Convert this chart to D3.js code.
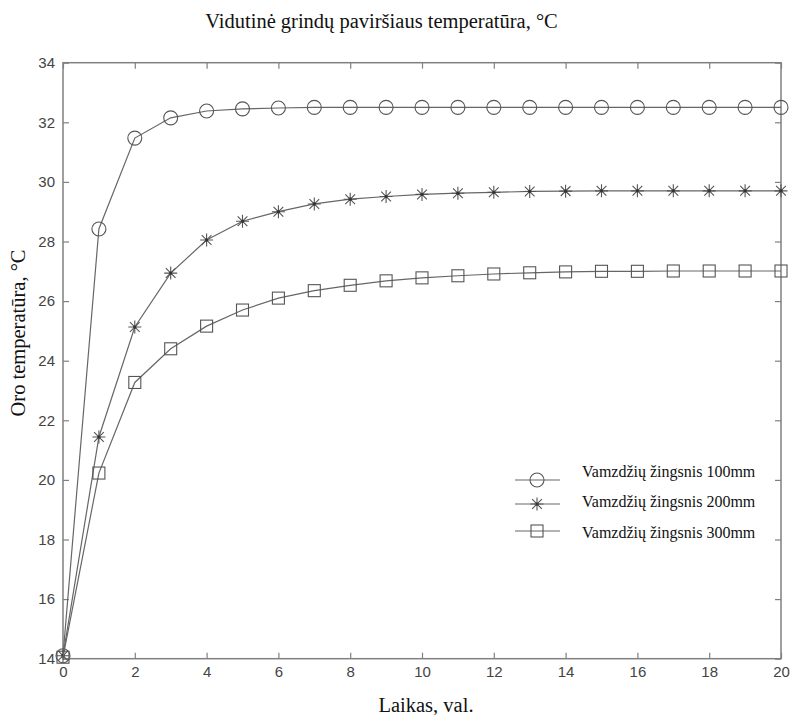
<!DOCTYPE html>
<html><head><meta charset="utf-8">
<script src="https://cdn.jsdelivr.net/npm/d3@7"></script>
<style>body{margin:0;background:#fff}</style>
</head><body>
<script>
const hours = [0,1,2,3,4,5,6,7,8,9,10,11,12,13,14,15,16,17,18,19,20];
const pipe100 = [14.1,28.42,31.47,32.15,32.38,32.45,32.48,32.5,32.5,32.5,32.5,32.5,32.5,32.5,32.5,32.5,32.5,32.5,32.5,32.5,32.5];
const pipe200 = [14.1,21.44,25.13,26.94,28.05,28.68,29.0,29.26,29.42,29.51,29.58,29.62,29.65,29.68,29.69,29.7,29.7,29.7,29.7,29.7,29.7];
const pipe300 = [14.05,20.23,23.27,24.4,25.16,25.7,26.1,26.35,26.53,26.68,26.78,26.85,26.91,26.95,26.98,27.0,27.0,27.01,27.01,27.01,27.01];
const seriesNames = ["Vamzdžių žingsnis 100mm","Vamzdžių žingsnis 200mm","Vamzdžių žingsnis 300mm"];
const xTicks = [0,2,4,6,8,10,12,14,16,18,20];
const yTicks = [14,16,18,20,22,24,26,28,30,32,34];
const titleText = "Vidutinė grindų paviršiaus temperatūra, °C";
const xLabel = "Laikas, val.";
const yLabel = "Oro temperatūra, °C";

const W = 790, H = 715;
const L = 63, R = 781, T = 62.7, B = 658.7;
const svg = d3.select("body").append("svg").attr("width", W).attr("height", H);
const x = d3.scaleLinear().domain([0,20]).range([L,R]);
const y = d3.scaleLinear().domain([14,34]).range([B,T]);
const axisCol = "#808080", lineCol = "#666", markCol = "#555";

// frame
svg.append("rect").attr("x",L).attr("y",T).attr("width",R-L).attr("height",B-T)
  .attr("fill","none").attr("stroke",axisCol).attr("stroke-width",1.5);

const tickFont = "Liberation Sans, Arial, sans-serif";
const gx = svg.append("g").attr("transform",`translate(0,${B})`)
  .call(d3.axisBottom(x).tickValues(xTicks).tickSizeInner(-6).tickSizeOuter(0).tickPadding(8));
const gxt = svg.append("g").attr("transform",`translate(0,${T})`)
  .call(d3.axisTop(x).tickValues(xTicks).tickSizeInner(-6).tickSizeOuter(0).tickFormat(""));
const gy = svg.append("g").attr("transform",`translate(${L},0)`)
  .call(d3.axisLeft(y).tickValues(yTicks).tickSizeInner(-6).tickSizeOuter(0).tickPadding(8));
const gyr = svg.append("g").attr("transform",`translate(${R},0)`)
  .call(d3.axisRight(y).tickValues(yTicks).tickSizeInner(-6).tickSizeOuter(0).tickFormat(""));
[gx,gxt,gy,gyr].forEach(g=>{
  g.select(".domain").remove();
  g.selectAll(".tick line").attr("stroke",axisCol).attr("stroke-width",1.2);
  g.selectAll(".tick text").attr("fill","#444").attr("font-family",tickFont).attr("font-size",15);
});

function star(g, cx, cy, s){
  const p = d3.path();
  p.moveTo(cx-s,cy); p.lineTo(cx+s,cy);
  p.moveTo(cx,cy-s); p.lineTo(cx,cy+s);
  const d = s*0.75;
  p.moveTo(cx-d,cy-d); p.lineTo(cx+d,cy+d);
  p.moveTo(cx-d,cy+d); p.lineTo(cx+d,cy-d);
  g.append("path").attr("d",p.toString()).attr("stroke",markCol).attr("stroke-width",1.1).attr("fill","none");
  g.append("circle").attr("cx",cx).attr("cy",cy).attr("r",1.6).attr("fill","#333");
}
function marker(g, type, cx, cy){
  if(type===0) g.append("circle").attr("cx",cx).attr("cy",cy).attr("r",7).attr("fill","none").attr("stroke",markCol).attr("stroke-width",1.1);
  else if(type===1) star(g,cx,cy,6.5);
  else g.append("rect").attr("x",cx-6).attr("y",cy-6).attr("width",12).attr("height",12).attr("fill","none").attr("stroke",markCol).attr("stroke-width",1.1);
}

const allSeries = [pipe100,pipe200,pipe300];
const line = d3.line().x((d,i)=>x(hours[i])).y(d=>y(d));
allSeries.forEach((vals,si)=>{
  const g = svg.append("g");
  g.append("path").attr("d",line(vals)).attr("fill","none").attr("stroke",lineCol).attr("stroke-width",1.2);
  vals.forEach((v,i)=>marker(g,si,x(hours[i]),y(v)));
});

// legend
const legMarkY = [480,504,531], legTextY = [477,507,538];
seriesNames.forEach((n,i)=>{
  const g = svg.append("g");
  g.append("line").attr("x1",515).attr("x2",560).attr("y1",legMarkY[i]).attr("y2",legMarkY[i]).attr("stroke",lineCol).attr("stroke-width",1.2);
  marker(g,i,537,legMarkY[i]);
  g.append("text").attr("x",582).attr("y",legTextY[i]).text(n)
    .attr("font-family","Liberation Serif, Times New Roman, serif").attr("font-size",16).attr("fill","#111");
});

const serif = "Liberation Serif, Times New Roman, serif";
svg.append("text").attr("x",381.5).attr("y",28).attr("text-anchor","middle").text(titleText)
  .attr("font-family",serif).attr("font-size",20.5).attr("fill","#111");
svg.append("text").attr("x",426).attr("y",712).attr("text-anchor","middle").text(xLabel)
  .attr("font-family",serif).attr("font-size",20.5).attr("fill","#111");
svg.append("text").attr("transform","translate(25,333) rotate(-90)").attr("text-anchor","middle").text(yLabel)
  .attr("font-family",serif).attr("font-size",20.5).attr("fill","#111");
</script>
</body></html>
